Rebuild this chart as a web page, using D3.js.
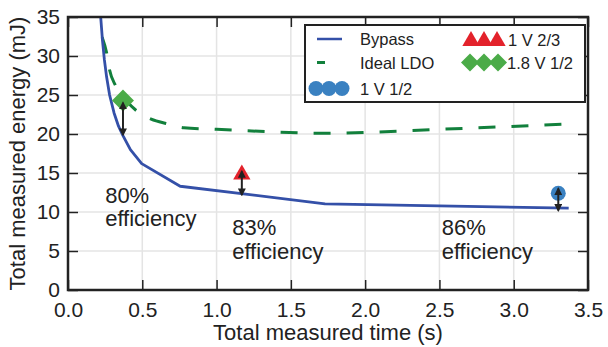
<!DOCTYPE html>
<html>
<head>
<meta charset="utf-8">
<script src="https://cdn.jsdelivr.net/npm/d3@7"></script>
<style>
  body { margin: 0; background: #fff; }
  text { font-family: "Liberation Sans", Arial, Helvetica, sans-serif; fill: #222; }
</style>
</head>
<body>
<div id="chart"></div>
<script>
// data
const bypassTime   = [0.22, 0.232, 0.245, 0.26, 0.28, 0.31, 0.34, 0.37, 0.42, 0.496, 0.755, 1.73, 3.37];
const bypassEnergy = [35, 32, 29.5, 27.3, 25, 22.7, 21, 19.8, 18.0, 16.2, 13.3, 11.05, 10.5];
const ldoTime   = [0.23, 0.26, 0.28, 0.32, 0.40, 0.46, 0.56, 0.67, 0.78, 1.0, 1.73, 2.5, 3.37];
const ldoEnergy = [32.4, 30.4, 28.2, 26.2, 24.1, 23.0, 21.9, 21.3, 20.8, 20.6, 20.1, 20.6, 21.3];
const points = [
  { name: "1.8 V 1/2", t: 0.37, e: 24.3, shape: "diamond", color: "#4bab48" },
  { name: "1 V 2/3",   t: 1.17, e: 14.8, shape: "triangle", color: "#e3222b" },
  { name: "1 V 1/2",   t: 3.30, e: 12.4, shape: "circle", color: "#3a81c1" }
];
// arrows: [time, top, bottom]
const arrows = [[0.37, 24.0, 19.9], [1.17, 15.2, 12.2], [3.30, 13.0, 10.2]];
const notes = [
  { t: 0.25, e: 11.2, pct: "80%" },
  { t: 1.105, e: 7.05, pct: "83%" },
  { t: 2.515, e: 7.05, pct: "86%" }
];
const xTicks = [0, 0.5, 1, 1.5, 2, 2.5, 3, 3.5];
const yTicks = [0, 5, 10, 15, 20, 25, 30, 35];

const W = 608, H = 347;
const m = { top: 17, right: 20, bottom: 57, left: 68 };
const iw = W - m.left - m.right, ih = H - m.top - m.bottom;

const svg = d3.select("#chart").append("svg")
  .attr("width", W).attr("height", H);

const defs = svg.append("defs");
defs.append("marker").attr("id", "head")
  .attr("viewBox", "0 0 10 10").attr("refX", 8).attr("refY", 5)
  .attr("markerWidth", 4).attr("markerHeight", 4)
  .attr("orient", "auto-start-reverse")
  .append("path").attr("d", "M0,0 L10,5 L0,10 z").attr("fill", "#222");
defs.append("clipPath").attr("id", "clip")
  .append("rect").attr("width", iw).attr("height", ih);

const g = svg.append("g").attr("transform", `translate(${m.left},${m.top})`);

const x = d3.scaleLinear().domain([0, 3.5]).range([0, iw]);
const y = d3.scaleLinear().domain([0, 35]).range([ih, 0]);

// grid
g.append("g").selectAll("line").data(xTicks.slice(1, -1)).enter().append("line")
  .attr("x1", d => x(d)).attr("x2", d => x(d)).attr("y1", 0).attr("y2", ih)
  .attr("stroke", "#e4e4e4").attr("stroke-width", 1.5);
g.append("g").selectAll("line").data(yTicks.slice(1, -1)).enter().append("line")
  .attr("y1", d => y(d)).attr("y2", d => y(d)).attr("x1", 0).attr("x2", iw)
  .attr("stroke", "#e4e4e4").attr("stroke-width", 1.5);

// axes with inward ticks on all sides
const tickLen = 10;
const axB = g.append("g").attr("transform", `translate(0,${ih})`)
  .call(d3.axisBottom(x).tickValues(xTicks).tickFormat(d3.format(".1f")).tickSizeInner(-tickLen).tickSizeOuter(0).tickPadding(12));
const axL = g.append("g")
  .call(d3.axisLeft(y).tickValues(yTicks).tickFormat(d3.format("d")).tickSizeInner(-tickLen).tickSizeOuter(0).tickPadding(8));
const axT = g.append("g")
  .call(d3.axisTop(x).tickValues(xTicks).tickFormat("").tickSizeInner(-tickLen).tickSizeOuter(0));
const axR = g.append("g").attr("transform", `translate(${iw},0)`)
  .call(d3.axisRight(y).tickValues(yTicks).tickFormat("").tickSizeInner(-tickLen).tickSizeOuter(0));
[axB, axL, axT, axR].forEach(a => {
  a.select(".domain").remove();
  a.selectAll(".tick line").attr("stroke", "#222").attr("stroke-width", 1.5);
  a.selectAll("text").attr("font-size", 21).attr("fill", "#222")
    .style("font-family", '"Liberation Sans", Arial, sans-serif');
});

// lines
const plot = g.append("g").attr("clip-path", "url(#clip)");
plot.append("path")
  .datum(ldoTime.map((t, i) => [t, ldoEnergy[i]]))
  .attr("fill", "none").attr("stroke", "#12803c").attr("stroke-width", 3)
  .attr("stroke-dasharray", "17,16")
  .attr("d", d3.line().x(d => x(d[0])).y(d => y(d[1])).curve(d3.curveMonotoneX));
plot.append("path")
  .datum(bypassTime.map((t, i) => [t, bypassEnergy[i]]))
  .attr("fill", "none").attr("stroke", "#3450a8").attr("stroke-width", 2.8)
  .attr("stroke-linejoin", "round")
  .attr("d", d3.line().x(d => x(d[0])).y(d => y(d[1])));

// markers
function drawShape(sel, shape, color, cx, cy, s) {
  if (shape === "circle") {
    sel.append("circle").attr("cx", cx).attr("cy", cy).attr("r", 7.5 * s).attr("fill", color);
  } else if (shape === "triangle") {
    sel.append("path").attr("d", d3.symbol(d3.symbolTriangle, 130 * s * s)())
      .attr("transform", `translate(${cx},${cy})`).attr("fill", color);
  } else {
    const r = 11 * s;
    sel.append("path").attr("d", `M0,${-r} L${r},0 L0,${r} L${-r},0 Z`)
      .attr("transform", `translate(${cx},${cy})`).attr("fill", color);
  }
}
points.forEach(p => drawShape(g, p.shape, p.color, x(p.t), y(p.e), 1));

// arrows
g.append("g").selectAll("line").data(arrows).enter().append("line")
  .attr("x1", d => x(d[0])).attr("x2", d => x(d[0]))
  .attr("y1", d => y(d[1])).attr("y2", d => y(d[2]))
  .attr("stroke", "#222").attr("stroke-width", 2)
  .attr("marker-start", "url(#head)").attr("marker-end", "url(#head)");

// efficiency notes
notes.forEach(n => {
  const t = g.append("text").attr("x", x(n.t)).attr("y", y(n.e)).attr("font-size", 22);
  t.append("tspan").attr("x", x(n.t)).text(n.pct);
  t.append("tspan").attr("x", x(n.t)).attr("dy", 23.5).text("efficiency");
});

// frame
g.append("rect").attr("width", iw).attr("height", ih)
  .attr("fill", "none").attr("stroke", "#222").attr("stroke-width", 2.5);

// axis titles
svg.append("text").attr("x", m.left + iw / 2).attr("y", 340)
  .attr("text-anchor", "middle").attr("font-size", 22).text("Total measured time (s)");
svg.append("text").attr("transform", `translate(25,${m.top + ih / 2}) rotate(-90)`)
  .attr("text-anchor", "middle").attr("font-size", 22).text("Total measured energy (mJ)");

// legend
const lg = svg.append("g");
lg.append("rect").attr("x", 305).attr("y", 25).attr("width", 280).attr("height", 77)
  .attr("fill", "#fff").attr("stroke", "#222").attr("stroke-width", 2);
lg.append("line").attr("x1", 317).attr("x2", 342).attr("y1", 39).attr("y2", 39)
  .attr("stroke", "#3450a8").attr("stroke-width", 2.5);
lg.append("text").attr("x", 360).attr("y", 45).attr("font-size", 16.5).text("Bypass");
lg.append("line").attr("x1", 317).attr("x2", 325).attr("y1", 62.5).attr("y2", 62.5)
  .attr("stroke", "#12803c").attr("stroke-width", 3);
lg.append("text").attr("x", 360).attr("y", 68.5).attr("font-size", 16.5).text("Ideal LDO");
[316, 329, 342].forEach(cx => drawShape(lg, "circle", points[2].color, cx, 88.5, 1));
lg.append("text").attr("x", 360).attr("y", 94.5).attr("font-size", 16.5).text("1 V 1/2");
[471, 484, 497].forEach(cx => drawShape(lg, "triangle", points[1].color, cx, 41, 1));
lg.append("text").attr("x", 508).attr("y", 45.5).attr("font-size", 16.5).text("1 V 2/3");
[470, 484, 498].forEach(cx => drawShape(lg, "diamond", points[0].color, cx, 62.5, 0.82));
lg.append("text").attr("x", 507).attr("y", 68.5).attr("font-size", 16.5).text("1.8 V 1/2");
</script>
</body>
</html>
